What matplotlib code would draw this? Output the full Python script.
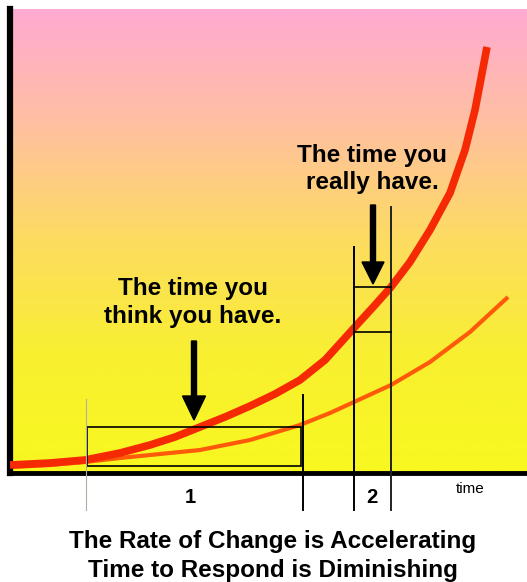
import numpy as np
import matplotlib.pyplot as plt
from matplotlib.colors import LinearSegmentedColormap
from matplotlib.patches import Rectangle, FancyArrow

plt.rcParams['font.family'] = ['Liberation Sans', 'DejaVu Sans']

# curves (time, amount of change)
red_t = [0, 40, 75, 110, 140, 165, 190, 215, 240, 265, 290, 315, 344, 365, 381,
         400, 420, 440, 455, 465, 477]
red_v = [8, 10, 13, 20, 28, 36, 46, 56, 67, 79, 93, 113, 145, 168, 186,
         211, 243, 280, 323, 363, 426]
orange_t = [0, 40, 75, 110, 140, 190, 240, 290, 320, 344, 381, 420, 460, 498]
orange_v = [6, 8, 11, 15, 18, 23, 33, 48, 60, 71, 88, 111, 141, 176]

# "time you think you have" window and "time you really have" window
win1 = (77, 291)
win1_v = (7, 46)
win2 = (344, 381)
win2_v = (141, 186)

fig = plt.figure(figsize=(5.27, 5.82), dpi=100)
ax = fig.add_axes([10 / 527, 109 / 582, 517 / 527, 464 / 582])
ax.set_xlim(0, 517)
ax.set_ylim(0, 464)

grad = LinearSegmentedColormap.from_list(
    'bg', ['#f8f820', '#f8f030', '#fddc60', '#ffc0a0', '#ffaad2'])
ax.imshow(np.linspace(0, 1, 256).reshape(-1, 1), cmap=grad, origin='lower',
          extent=[0, 517, 0, 464], aspect='auto', zorder=0)

ax.plot(orange_t, orange_v, color='#ff5a0a', lw=3, solid_capstyle='butt',
        solid_joinstyle='round', zorder=2)
ax.plot(red_t, red_v, color='#f52a05', lw=5.5, solid_capstyle='butt',
        solid_joinstyle='round', zorder=3)

for s in ['top', 'right']:
    ax.spines[s].set_visible(False)
ax.spines['left'].set_linewidth(4.5)
ax.spines['bottom'].set_linewidth(3.5)
ax.set_xticks([])
ax.set_yticks([])

# box 1
ax.add_patch(Rectangle((win1[0], win1_v[0]), win1[1] - win1[0], win1_v[1] - win1_v[0],
                       fill=False, ec='black', lw=1.2, zorder=4))
ax.plot([win1[0] - 1, win1[0] - 1], [-37, 74], color='#b0b0a0', lw=0.8, clip_on=False, zorder=4)
ax.plot([win1[1] + 2, win1[1] + 2], [-37, 78], color='black', lw=1.4, clip_on=False, zorder=4)

# box 2
ax.plot([win2[0], win2[0]], [-37, 226], color='black', lw=1.4, clip_on=False, zorder=4)
ax.plot([win2[1], win2[1]], [-37, 266], color='#222222', lw=1.4, clip_on=False, zorder=4)
for v in win2_v:
    ax.plot(win2, [v, v], color='black', lw=1.2, zorder=4)

# arrows
ax.add_patch(FancyArrow(184, 132, 0, -79, width=5, head_width=23, head_length=24,
                        length_includes_head=True, color='black', zorder=5))
ax.add_patch(FancyArrow(363, 268, 0, -79, width=5, head_width=22, head_length=22,
                        length_includes_head=True, color='black', zorder=5))

bold = dict(fontsize=17.5, fontweight='bold', ha='center', va='baseline', zorder=6)
ax.text(183, 473 - 295, 'The time you', **bold)
ax.text(183, 473 - 323, 'think you have.', **bold)
ax.text(362, 473 - 162, 'The time you', **bold)
ax.text(362, 473 - 189, 'really have.', **bold)

ax.text(180, -30, '1', fontsize=14.5, fontweight='bold', ha='center', va='baseline', clip_on=False)
ax.text(362, -30, '2', fontsize=14.5, fontweight='bold', ha='center', va='baseline', clip_on=False)
ax.text(460, -20, 'time', fontsize=11, ha='center', va='baseline', clip_on=False)

fig.text(273 / 527, 1 - 548 / 582, 'The Rate of Change is Accelerating',
         fontsize=17.5, fontweight='bold', ha='center', va='baseline')
fig.text(273 / 527, 1 - 577 / 582, 'Time to Respond is Diminishing',
         fontsize=17.5, fontweight='bold', ha='center', va='baseline')

fig.savefig('out.png', dpi=100)
